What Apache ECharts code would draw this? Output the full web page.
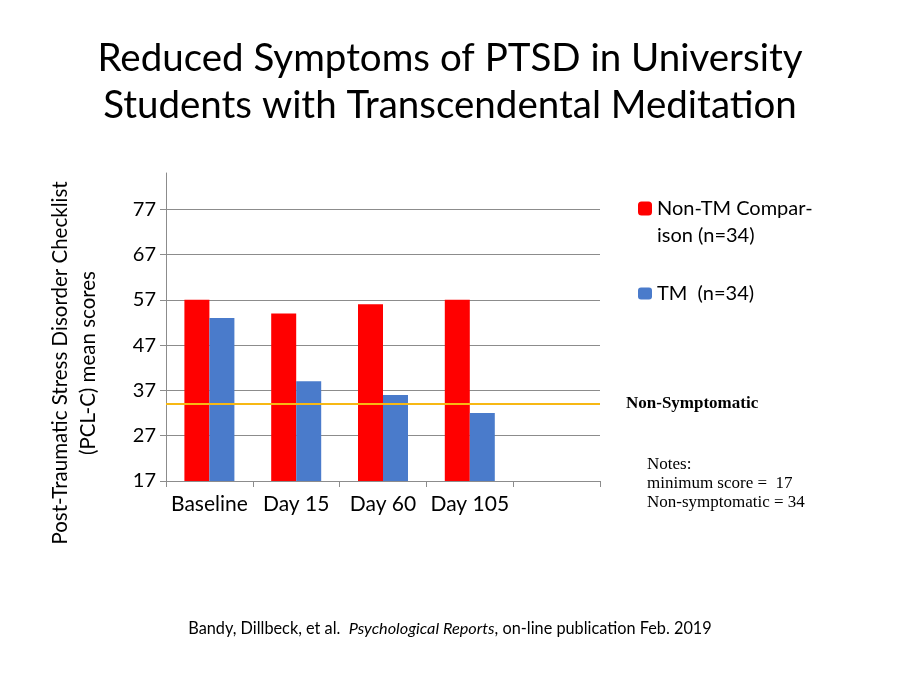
<!DOCTYPE html>
<html>
<head>
<meta charset="utf-8">
<script src="https://cdn.jsdelivr.net/npm/echarts@6/dist/echarts.min.js"></script>
<style>
  html, body { margin: 0; padding: 0; background: #fff; }
  #chart { width: 900px; height: 675px; }
</style>
</head>
<body>
<div id="chart"></div>
<script>
// data
const categories = ['Baseline', 'Day 15', 'Day 60', 'Day 105', ''];
const nonTM = [57, 54, 56, 57, null];
const tm = [53, 39, 36, 32, null];
const yTicks = [17, 27, 37, 47, 57, 67, 77];
const yMin = 17;
const yMax = 85;
const nonSymptomatic = 34;

const seriesNames = ['Non-TM Comparison (n=34)', 'TM  (n=34)'];
// leading blank line keeps the first text line level with the legend square
const legendLabels = {
  'Non-TM Comparison (n=34)': '\nNon-TM Compar-\nison (n=34)',
  'TM  (n=34)': 'TM  (n=34)'
};

const sans = 'Lato, "Open Sans", sans-serif';
const serif = '"Liberation Serif", "DejaVu Serif", serif';
const gray = '#8c8c8c';

const chart = echarts.init(document.getElementById('chart'));

let option = {
  backgroundColor: '#fff',
  animation: false,
  title: [
    {
      text: 'Reduced Symptoms of PTSD in University\nStudents with Transcendental Meditation',
      left: 'center',
      top: 30,
      textStyle: { fontFamily: sans, fontSize: 38.5, fontWeight: 'normal', color: '#000', lineHeight: 47 }
    },
    {
      text: '{n|Bandy, Dillbeck, et al.  }{i|Psychological Reports}{n|, on-line publication Feb. 2019}',
      left: 'center',
      top: 616,
      textStyle: {
        fontWeight: 'normal',
        rich: {
          n: { fontFamily: sans, fontSize: 16.3, fontWeight: 'normal', color: '#000' },
          i: { fontFamily: sans, fontSize: 16.3, fontWeight: 'normal', color: '#000', fontStyle: 'italic' }
        }
      }
    },
    {
      text: 'Notes:\nminimum score =  17\nNon-symptomatic = 34',
      left: 647,
      top: 455,
      padding: 0,
      textStyle: { fontFamily: serif, fontSize: 17, fontWeight: 'normal', color: '#000', lineHeight: 19 }
    }
  ],
  legend: [
    {
      data: [seriesNames[0]],
      orient: 'vertical',
      left: 638,
      top: 168,
      padding: 0,
      itemWidth: 14,
      itemHeight: 14,
      formatter: name => legendLabels[name],
      textStyle: { fontFamily: sans, fontSize: 20, color: '#000', lineHeight: 27 }
    },
    {
      data: [seriesNames[1]],
      orient: 'vertical',
      left: 638,
      top: 280,
      padding: 0,
      itemWidth: 14,
      itemHeight: 12,
      formatter: name => legendLabels[name],
      textStyle: { fontFamily: sans, fontSize: 20, color: '#000', lineHeight: 27 }
    }
  ],
  grid: {
    left: 166,
    right: 300,
    top: 173,
    bottom: 194
  },
  xAxis: {
    type: 'category',
    data: categories,
    axisLine: { lineStyle: { color: gray, width: 1 } },
    axisTick: { show: true, length: 6, alignWithLabel: false, lineStyle: { color: gray } },
    axisLabel: { color: '#000', fontFamily: sans, fontSize: 21, margin: 13, interval: 0 }
  },
  yAxis: {
    type: 'value',
    min: yMin,
    max: yMax,
    interval: 10,
    axisLine: { show: true, lineStyle: { color: gray, width: 1 } },
    axisTick: { show: true, length: 6, lineStyle: { color: gray } },
    axisLabel: {
      color: '#000', fontFamily: sans, fontSize: 20, margin: 10,
      showMaxLabel: false,
      formatter: v => (yTicks.indexOf(v) >= 0 ? String(v) : '')
    },
    splitLine: { show: true, showMinLine: false, showMaxLine: false, lineStyle: { color: gray, width: 1 } }
  },
  graphic: [
    {
      type: 'text',
      x: 74,
      y: 363,
      rotation: Math.PI / 2,
      style: {
        text: 'Post-Traumatic Stress Disorder Checklist\n(PCL-C) mean scores',
        fontFamily: sans,
        fontSize: 20.5,
        lineHeight: 28,
        fill: '#000',
        align: 'center',
        verticalAlign: 'middle'
      }
    }
  ],
  series: [
    {
      name: seriesNames[0],
      type: 'bar',
      data: nonTM,
      barWidth: 25,
      barGap: '0%',
      itemStyle: { color: '#ff0000' },
      markLine: {
        silent: true,
        symbol: 'none',
        lineStyle: { color: '#f7b814', width: 2, type: 'solid' },
        label: {
          show: true,
          position: 'end',
          distance: 26,
          formatter: 'Non-Symptomatic',
          fontFamily: serif,
          fontSize: 17,
          fontWeight: 'bold',
          color: '#000'
        },
        data: [{ yAxis: nonSymptomatic }]
      }
    },
    {
      name: seriesNames[1],
      type: 'bar',
      data: tm,
      barWidth: 25,
      barGap: '0%',
      itemStyle: { color: '#4a7bcb' }
    }
  ]
};

chart.setOption(option);
</script>
</body>
</html>
